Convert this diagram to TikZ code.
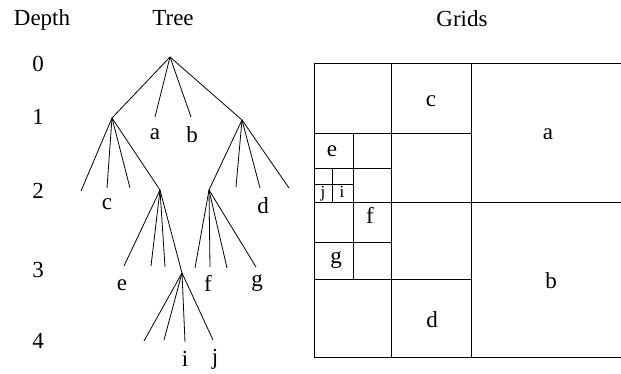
\documentclass[tikz,border=0pt]{standalone}
\usepackage{fontspec}
\setmainfont{Liberation Serif}
\begin{document}
\begin{tikzpicture}[x=1pt,y=-1pt,
  lbl/.style={inner sep=0pt,anchor=base,font=\fontsize{23}{26}\selectfont},
  small/.style={inner sep=0pt,anchor=base,font=\fontsize{17}{19}\selectfont},
  edge/.style={line width=0.8pt},
  gridline/.style={line width=0.9pt}]
\useasboundingbox (0,0) rectangle (621,374);
% headings
\node[lbl] (hdepth) at (42,26) {Depth};
\node[lbl] (htree) at (173,26) {Tree};
\node[lbl] (hgrids) at (462,27) {Grids};
% depth numbers
\node[lbl] (d0) at (38,72) {0};
\node[lbl] (d1) at (38,125) {1};
\node[lbl] (d2) at (38,199) {2};
\node[lbl] (d3) at (38,277) {3};
\node[lbl] (d4) at (38,348) {4};
% tree vertices
\coordinate (root) at (170,57);
\coordinate (L1) at (112,118);
\coordinate (R1) at (242,120);
\coordinate (ta) at (155,117);
\coordinate (tb) at (191,117);
\coordinate (L1a) at (81,191);
\coordinate (tc) at (107,188);
\coordinate (L1c) at (130,188);
\coordinate (L2) at (160,190);
\coordinate (R2) at (209,190);
\coordinate (R1b) at (236,187);
\coordinate (td) at (260,188);
\coordinate (R1d) at (289,188);
\coordinate (te) at (124,266);
\coordinate (L2b) at (151,266);
\coordinate (L2c) at (165,267);
\coordinate (L3) at (182,273);
\coordinate (R2a) at (195,268);
\coordinate (tf) at (210,267);
\coordinate (R2c) at (227,268);
\coordinate (tg) at (256,267);
\coordinate (L3a) at (144,341);
\coordinate (L3b) at (164,340);
\coordinate (ti) at (185,342);
\coordinate (tj) at (213,340);
% tree edges
\draw[edge] (root) -- (L1);
\draw[edge] (root) -- (ta);
\draw[edge] (root) -- (tb);
\draw[edge] (root) -- (R1);
\draw[edge] (L1) -- (L1a);
\draw[edge] (L1) -- (tc);
\draw[edge] (L1) -- (L1c);
\draw[edge] (L1) -- (L2);
\draw[edge] (R1) -- (R2);
\draw[edge] (R1) -- (R1b);
\draw[edge] (R1) -- (td);
\draw[edge] (R1) -- (R1d);
\draw[edge] (L2) -- (te);
\draw[edge] (L2) -- (L2b);
\draw[edge] (L2) -- (L2c);
\draw[edge] (L2) -- (L3);
\draw[edge] (R2) -- (R2a);
\draw[edge] (R2) -- (tf);
\draw[edge] (R2) -- (R2c);
\draw[edge] (R2) -- (tg);
\draw[edge] (L3) -- (L3a);
\draw[edge] (L3) -- (L3b);
\draw[edge] (L3) -- (ti);
\draw[edge] (L3) -- (tj);
% tree labels
\node[lbl] (la) at (155,140) {a};
\node[lbl] (lb) at (192,143) {b};
\node[lbl] (lc) at (107,210) {c};
\node[lbl] (ld) at (263,214) {d};
\node[lbl] (le) at (122,290) {e};
\node[lbl] (lf) at (208,291) {f};
\node[lbl] (lg) at (257,286) {g};
\node[lbl] (li) at (185,366) {i};
\node[lbl] (lj) at (215,364) {j};
% grids
\draw[gridline] (314,63) -- (621,63);
\draw[gridline] (314,357) -- (621,357);
\draw[gridline] (314,63) -- (314,357);
\draw[gridline] (471,63) -- (471,357);
\draw[gridline] (391,63) -- (391,357);
\draw[gridline] (314,202) -- (621,202);
\draw[gridline] (314,133) -- (471,133);
\draw[gridline] (314,279) -- (471,279);
\draw[gridline] (353,133) -- (353,279);
\draw[gridline] (314,168) -- (391,168);
\draw[gridline] (314,242) -- (391,242);
\draw[gridline] (332,168) -- (332,202);
\draw[gridline] (314,184) -- (353,184);
% grid labels
\node[lbl] (gc) at (431,107) {c};
\node[lbl] (ga) at (548,140) {a};
\node[lbl] (ge) at (332,157) {e};
\node[small] (gj) at (323,198) {j};
\node[small] (gi) at (342,198) {i};
\node[lbl] (gf) at (370,224) {f};
\node[lbl] (gg) at (336,263) {g};
\node[lbl] (gb) at (551,288) {b};
\node[lbl] (gd) at (432,327) {d};
\end{tikzpicture}
\end{document}
